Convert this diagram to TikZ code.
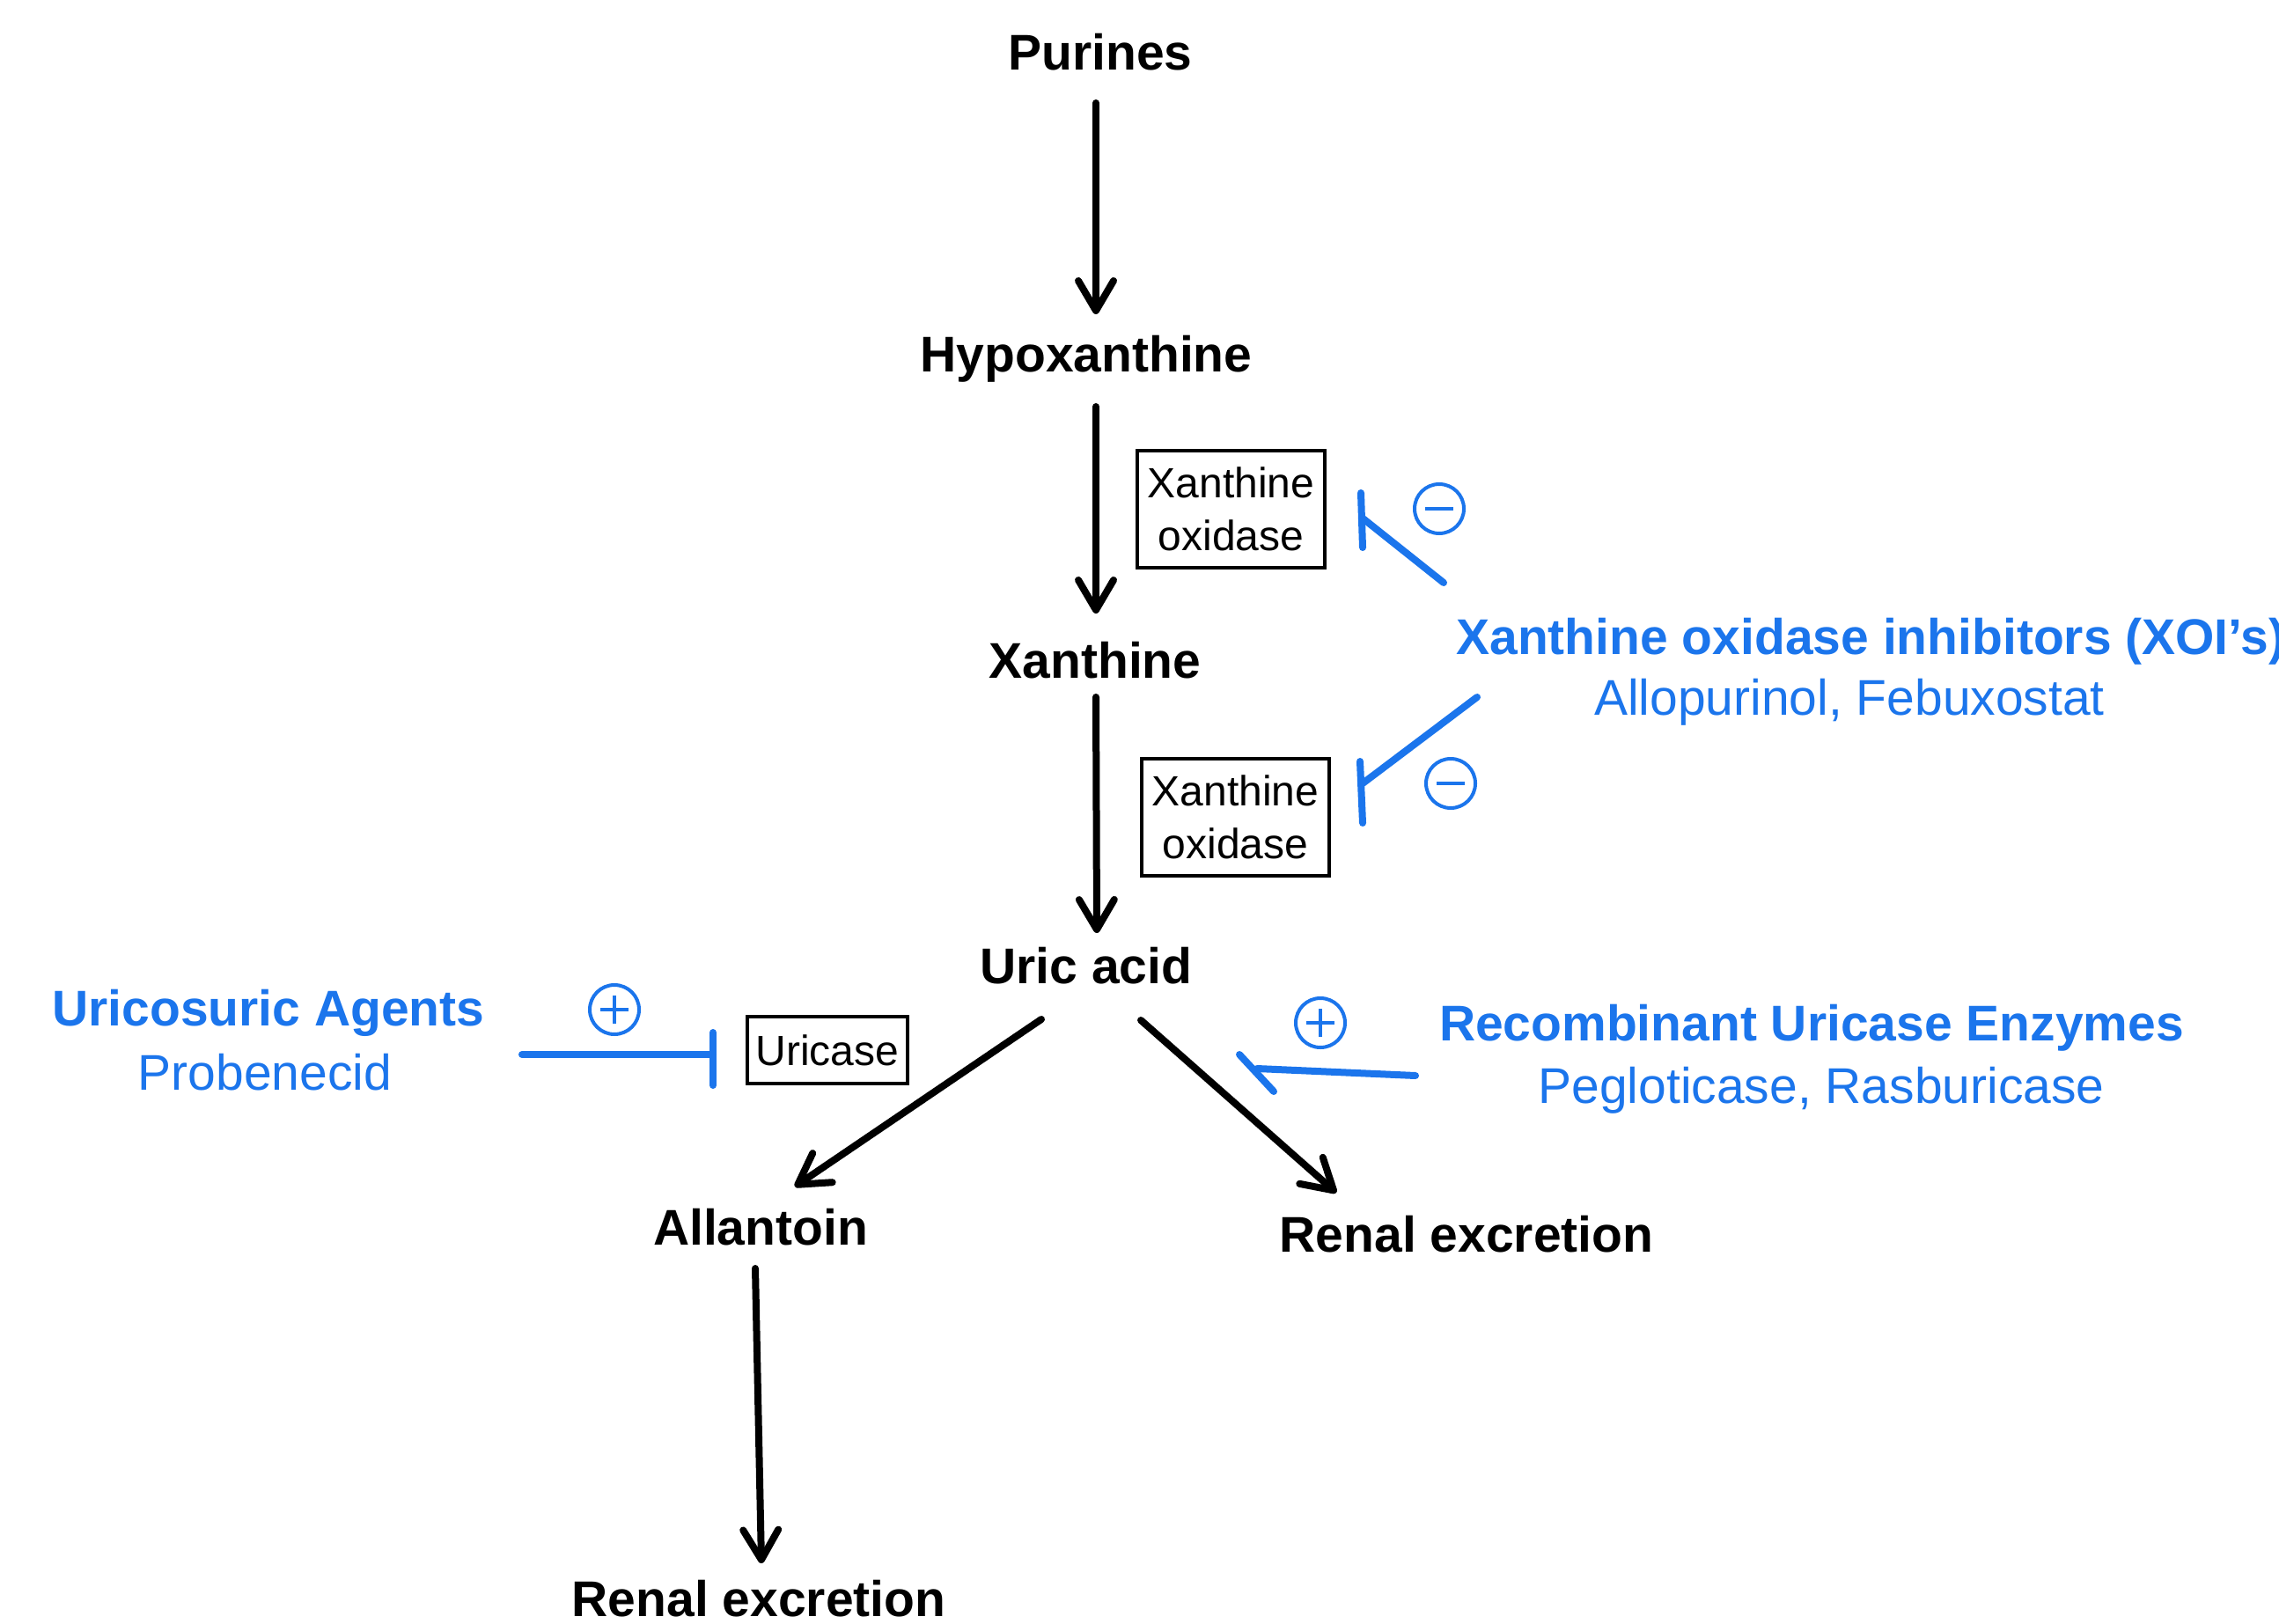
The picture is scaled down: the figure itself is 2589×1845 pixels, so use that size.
\documentclass[tikz,border=0pt]{standalone}
\usepackage{fontspec}
\setmainfont{Liberation Sans}
\usetikzlibrary{arrows.meta}
\definecolor{xblue}{RGB}{27,117,236}
\begin{document}
\begin{tikzpicture}[x=0.5pt,y=-0.5pt,
  lbl/.style={font=\fontsize{28.5pt}{34pt}\selectfont\bfseries, inner sep=0pt, anchor=base},
  ttl/.style={lbl, text=xblue},
  sub/.style={font=\fontsize{28.5pt}{34pt}\selectfont, text=xblue, inner sep=0pt, anchor=base},
  enz/.style={draw, line width=2pt, font=\fontsize{24pt}{30pt}\selectfont, align=center, inner sep=0pt},
  arr/.style={line width=4pt, line cap=round, -{Straight Barb[length=17pt,width=20pt,round]}},
  inh/.style={xblue, line width=4pt, line cap=round},
  sign/.style={circle, draw=xblue, line width=2pt, minimum size=28pt, inner sep=0pt},
  signbar/.style={xblue, line width=2pt}
]
\fill[white] (0,0) rectangle (2589,1845);
\useasboundingbox (0,0) rectangle (2589,1845);

% main pathway
\node[lbl] (pur)   at (1250,80)   {Purines};
\node[lbl] (hyp)   at (1234,423)  {Hypoxanthine};
\node[lbl] (xan)   at (1244,770)  {Xanthine};
\node[lbl] (uric)  at (1234,1117) {Uric acid};
\node[lbl] (allan) at (864,1414)  {Allantoin};
\node[lbl] (renR)  at (1666,1422) {Renal excretion};
\node[lbl] (renB)  at (862,1836)  {Renal excretion};

% enzyme boxes
\node[enz, minimum width=106.5pt, minimum height=66.5pt] (xo1) at (1398.5,578.5) {Xanthine\\oxidase};
\node[enz, minimum width=106.5pt, minimum height=66.5pt] (xo2) at (1403.5,928.5) {Xanthine\\oxidase};
\node[enz, minimum width=91pt, minimum height=38pt] (uricase) at (940,1193) {Uricase};

% arrows
\draw[arr] ([shift={(-5,37)}]pur.base) -- ([shift={(11,-66)}]hyp.base);
\draw[arr] ([shift={(11,39)}]hyp.base) -- ([shift={(1,-73)}]xan.base);
\draw[arr] ([shift={(1,22)}]xan.base) -- ([shift={(12,-57)}]uric.base);
\draw[arr] ([shift={(-51,41)}]uric.base) -- ([shift={(39,-66)}]allan.base);
\draw[arr] ([shift={(62,42)}]uric.base) -- ([shift={(-148,-67)}]renR.base);
\draw[arr] ([shift={(-6,27)}]allan.base) -- ([shift={(3,-60)}]renB.base);

% drug labels
\node[ttl, anchor=base west] (xoiT) at (1654,743) {Xanthine oxidase inhibitors (XOI’s)};
\node[sub] (xoiS) at (2101,812) {Allopurinol, Febuxostat};
\node[ttl] (uaT) at (305,1165) {Uricosuric Agents};
\node[sub] (uaS) at (301,1238) {Probenecid};
\node[ttl] (recT) at (2058,1182) {Recombinant Uricase Enzymes};
\node[sub] (recS) at (2069,1253) {Pegloticase, Rasburicase};

% inhibition / stimulation marks
\coordinate (i1a) at (1640,662);  \coordinate (i1b) at (1547,588);
\coordinate (i1c) at (1546,560);  \coordinate (i1d) at (1548,622);
\coordinate (i2a) at (1678,792);  \coordinate (i2b) at (1548,890);
\coordinate (i2c) at (1545,865);  \coordinate (i2d) at (1548,935);
\coordinate (i3a) at (593,1198);  \coordinate (i3b) at (810,1198);
\coordinate (i3c) at (810,1173);  \coordinate (i3d) at (810,1233);
\coordinate (i4a) at (1608,1222); \coordinate (i4b) at (1428,1214);
\coordinate (i4c) at (1408,1198); \coordinate (i4d) at (1447,1240);
\draw[inh] (i1a) -- (i1b);  \draw[inh] (i1c) -- (i1d);
\draw[inh] (i2a) -- (i2b);  \draw[inh] (i2c) -- (i2d);
\draw[inh] (i3a) -- (i3b);  \draw[inh] (i3c) -- (i3d);
\draw[inh] (i4a) -- (i4b);  \draw[inh] (i4c) -- (i4d);

\node[sign] (m1) at (1635,578) {};
\draw[signbar] ([xshift=-8pt]m1.center) -- ([xshift=8pt]m1.center);
\node[sign] (m2) at (1648,890) {};
\draw[signbar] ([xshift=-8pt]m2.center) -- ([xshift=8pt]m2.center);
\node[sign] (p1) at (698,1147) {};
\draw[signbar] ([xshift=-8pt]p1.center) -- ([xshift=8pt]p1.center);
\draw[signbar] ([yshift=-8pt]p1.center) -- ([yshift=8pt]p1.center);
\node[sign] (p2) at (1500,1162) {};
\draw[signbar] ([xshift=-8pt]p2.center) -- ([xshift=8pt]p2.center);
\draw[signbar] ([yshift=-8pt]p2.center) -- ([yshift=8pt]p2.center);
\end{tikzpicture}
\end{document}
